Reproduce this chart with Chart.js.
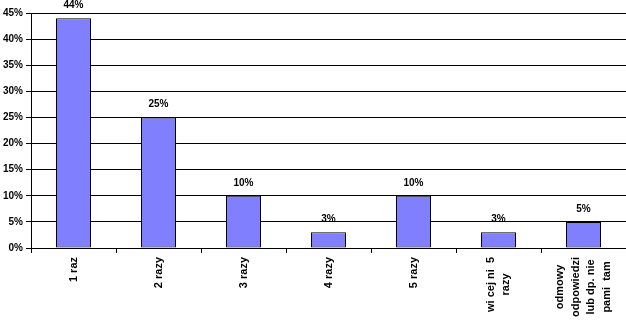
<!DOCTYPE html>
<html>
<head>
<meta charset="utf-8">
<script src="https://cdn.jsdelivr.net/npm/chart.js@4/dist/chart.umd.min.js"></script>
<style>
  html, body { margin: 0; padding: 0; background: #fff; }
  #wrap { width: 626px; height: 327px; }
</style>
</head>
<body>
<div id="wrap"><canvas id="chart" width="626" height="327"></canvas></div>
<script>
// données
const categories = [
  ['1 raz'],
  ['2 razy'],
  ['3 razy'],
  ['4 razy'],
  ['5 razy'],
  ['wi cej ni  5', 'razy'],
  ['odmowy', 'odpowiedzi', 'lub dp. nie', 'pami  tam']
];
const values = [44, 25, 10, 3, 10, 3, 5];
const yTicks = [0, 5, 10, 15, 20, 25, 30, 35, 40, 45];

const FAMILY = '"Liberation Sans", Arial, sans-serif';

// étiquettes au-dessus des barres
const valueLabels = {
  id: 'valueLabels',
  afterDatasetsDraw(chart) {
    const ctx = chart.ctx;
    const meta = chart.getDatasetMeta(0);
    ctx.save();
    ctx.font = 'bold 10px ' + FAMILY;
    ctx.fillStyle = '#000';
    ctx.textAlign = 'center';
    ctx.textBaseline = 'middle';
    meta.data.forEach((bar, i) => {
      ctx.fillText(values[i] + '%', bar.x, bar.y - 13);
    });
    ctx.restore();
  }
};

// étiquettes de l'axe X, verticales, lignes centrées
const xLabels = {
  id: 'xLabels',
  afterDraw(chart) {
    const ctx = chart.ctx;
    const xs = chart.scales.x;
    const base = chart.chartArea.bottom;
    const lineGap = 15.5;
    ctx.save();
    ctx.font = 'bold 11px ' + FAMILY;
    ctx.fillStyle = '#000';
    ctx.textAlign = 'center';
    ctx.textBaseline = 'middle';
    categories.forEach((lines, i) => {
      const x = xs.getPixelForTick(i);
      const w = Math.max(...lines.map(l => ctx.measureText(l).width));
      ctx.save();
      ctx.translate(x, base);
      ctx.rotate(-Math.PI / 2);
      lines.forEach((l, j) => {
        const off = (j - (lines.length - 1) / 2) * lineGap;
        ctx.fillText(l, -(9 + w / 2), off);
      });
      ctx.restore();
    });
    ctx.restore();
  }
};

new Chart(document.getElementById('chart'), {
  type: 'bar',
  data: {
    labels: categories,
    datasets: [{
      data: values,
      backgroundColor: '#8080ff',
      borderColor: '#000',
      borderWidth: 1,
      borderSkipped: false,
      inflateAmount: 0,
      barThickness: 35
    }]
  },
  options: {
    responsive: false,
    animation: false,
    devicePixelRatio: 1,
    layout: { padding: { top: 13, right: 0, left: 0, bottom: 0 } },
    plugins: { legend: { display: false }, tooltip: { enabled: false } },
    scales: {
      x: {
        grid: {
          display: true,
          drawOnChartArea: false,
          drawTicks: true,
          tickLength: 5,
          color: '#000',
          offset: true
        },
        border: { display: true, color: '#000', width: 1 },
        ticks: { display: false },
        afterFit(scale) { scale.height = 79; }
      },
      y: {
        min: 0,
        max: 45,
        afterBuildTicks(scale) { scale.ticks = yTicks.map(v => ({ value: v })); },
        grid: { color: '#000', lineWidth: 1, tickLength: 5, drawTicks: true },
        border: { display: true, color: '#000', width: 1 },
        ticks: {
          padding: 3,
          color: '#000',
          font: { family: FAMILY, size: 10, weight: 'bold' },
          callback: v => v + '%'
        },
        afterFit(scale) { scale.width = 31; }
      }
    }
  },
  plugins: [valueLabels, xLabels]
});
</script>
</body>
</html>
